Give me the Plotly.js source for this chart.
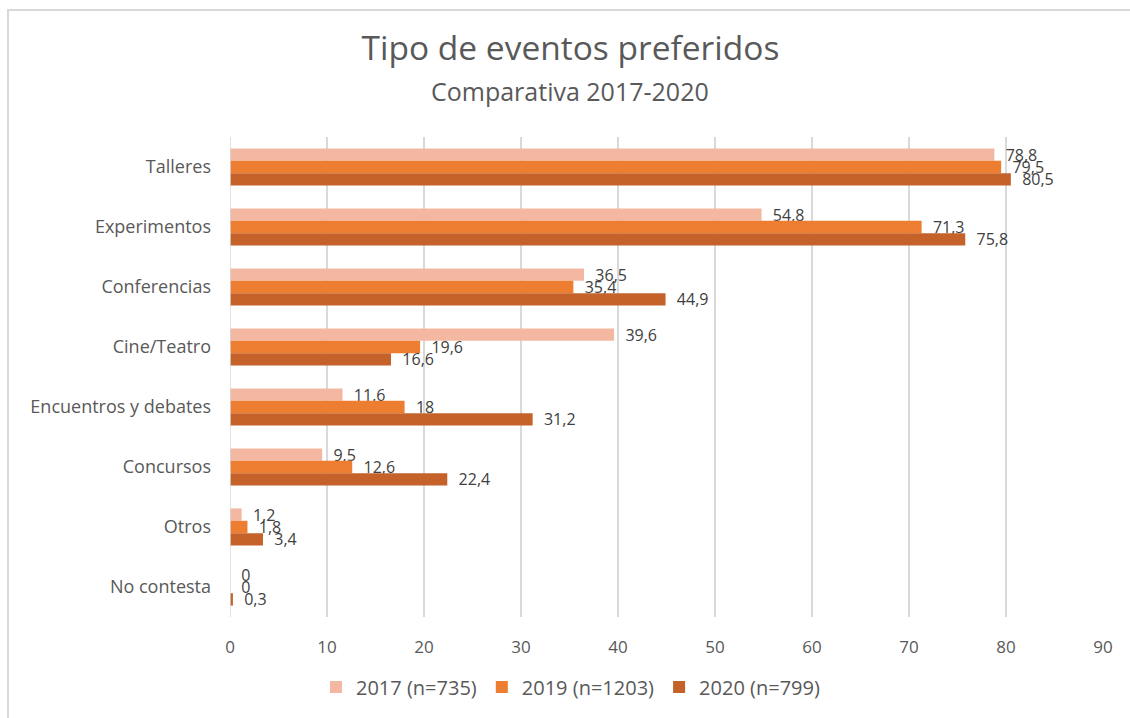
<!DOCTYPE html>
<html>
<head>
<meta charset="utf-8">
<script src="https://cdn.plot.ly/plotly-3.0.1.min.js"></script>
<style>
html,body{margin:0;padding:0;background:#fff;}
#wrap{position:relative;width:1130px;height:718px;}
#chart{width:1130px;height:718px;}
#frame{position:absolute;left:7px;top:9px;width:1123px;height:709px;border-top:2px solid #d9d9d9;border-left:2px solid #d9d9d9;box-sizing:border-box;pointer-events:none;}
</style>
</head>
<body>
<div id="wrap"><div id="chart"></div><div id="frame"></div></div>
<script>
const categories = ["Talleres","Experimentos","Conferencias","Cine/Teatro","Encuentros y debates","Concursos","Otros","No contesta"];
const seriesNames = ["2017 (n=735)","2019 (n=1203)","2020 (n=799)"];
const values2017 = [78.8, 54.8, 36.5, 39.6, 11.6, 9.5, 1.2, 0];
const values2019 = [79.5, 71.3, 35.4, 19.6, 18, 12.6, 1.8, 0];
const values2020 = [80.5, 75.8, 44.9, 16.6, 31.2, 22.4, 3.4, 0.3];
const xTicks = [0,10,20,30,40,50,60,70,80,90];

const colors = ["#F4B8A2", "#ED7D31", "#C4622A"];
const FONT = "'Open Sans', Lato, sans-serif";
const fmt = v => '\u00a0\u00a0' + String(v).replace('.', ',');

const allValues = [values2017, values2019, values2020];
const traces = allValues.map((vals, i) => ({
  type: 'bar',
  orientation: 'h',
  name: seriesNames[i],
  y: categories,
  x: vals,
  marker: {color: colors[i], line: {width: 0}},
  text: vals.map(fmt),
  textposition: 'outside',
  constraintext: 'none',
  cliponaxis: false,
  textfont: {family: FONT, size: 16, color: '#404040'},
  hoverinfo: 'x+name'
}));

const layout = {
  width: 1130, height: 718,
  margin: {l: 230, r: 27, t: 137, b: 98},
  paper_bgcolor: '#fff', plot_bgcolor: '#fff',
  barmode: 'group',
  bargap: 0.38,
  bargroupgap: 0,
  font: {family: FONT, color: '#595959'},
  title: {text: 'Tipo de eventos preferidos', xref: 'paper', x: 0.39, xanchor: 'center', y: 0.933, yanchor: 'middle',
          font: {family: FONT, size: 33.5, color: '#595959'}},
  annotations: [{
    text: 'Comparativa 2017-2020', xref: 'paper', yref: 'paper', x: 0.39, xanchor: 'center',
    y: 1.0, yanchor: 'middle', yshift: 46, showarrow: false,
    font: {family: FONT, size: 25, color: '#595959'}
  }],
  xaxis: {
    range: [0, 90], tickvals: xTicks, ticktext: xTicks.map(String),
    showgrid: true, gridcolor: '#d9d9d9', gridwidth: 1.5,
    zeroline: false, showline: false, ticks: '',
    tickfont: {family: FONT, size: 17, color: '#595959'},
    ticklabelstandoff: 18, fixedrange: true
  },
  yaxis: {
    type: 'category', categoryorder: 'array', categoryarray: categories,
    autorange: 'reversed',
    showgrid: false, zeroline: false, showline: false, ticks: '',
    tickfont: {family: FONT, size: 18, color: '#595959'},
    ticklabelstandoff: 18, fixedrange: true
  },
  shapes: [{type: 'line', xref: 'x', yref: 'paper', x0: 0, x1: 0, y0: 0, y1: 1,
            line: {color: '#d9d9d9', width: 1.5}}],
  legend: {orientation: 'h', x: 0.39, xanchor: 'center', y: -0.105, yanchor: 'top',
           font: {family: FONT, size: 20, color: '#595959'}, itemwidth: 30,
           traceorder: 'normal', itemclick: false}
};

Plotly.newPlot('chart', traces, layout, {displayModeBar: false, staticPlot: true});
</script>
</body>
</html>
